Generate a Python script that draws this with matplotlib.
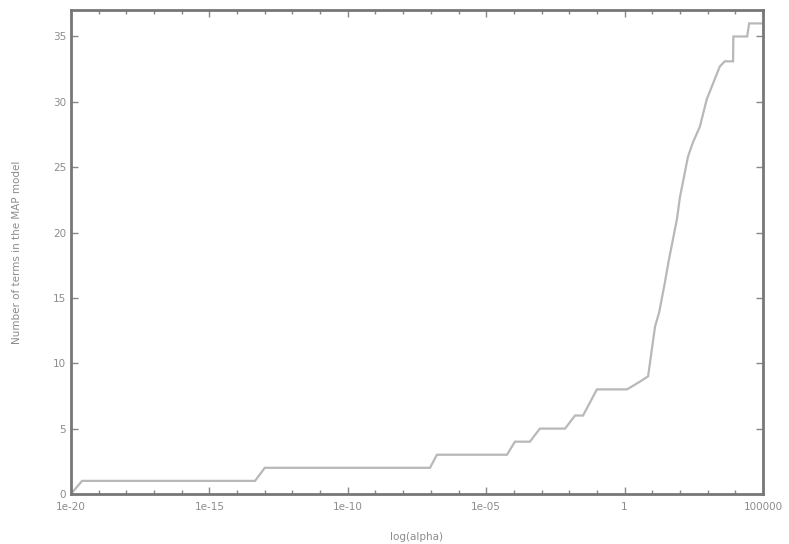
import matplotlib
matplotlib.use("Agg")
import matplotlib.pyplot as plt
import numpy as np
from matplotlib.ticker import FixedLocator, NullFormatter

# log10(alpha) positions and number of terms
log_alpha = [-20.0, -19.6, -13.35, -13.0, -7.03, -6.78, -4.25, -3.96, -3.42, -3.06,
             -2.15, -1.79, -1.50, -1.25, -1.0, 0.09, 0.56, 0.85, 1.10, 1.25,
             1.45, 1.60, 1.89, 2.0, 2.29, 2.47, 2.72, 2.97, 3.44, 3.62,
             3.92, 3.93, 4.43, 4.50, 5.0]
n_terms = [0, 1, 1, 2, 2, 3, 3, 4, 4, 5,
           5, 6, 6, 7, 8, 8, 8.6, 9, 12.8, 13.9,
           16.1, 17.9, 21, 22.7, 25.8, 26.9, 28.1, 30.2, 32.7, 33.1,
           33.1, 35, 35, 36, 36]

xtick_exps = [-20, -15, -10, -5, 0, 5]
xtick_labels = ["1e-20", "1e-15", "1e-10", "1e-05", "1", "100000"]
yticks = [0, 5, 10, 15, 20, 25, 30, 35]

fig = plt.figure(figsize=(7.89, 5.44), dpi=100)
ax = fig.add_axes([0.09, 0.092, 0.877, 0.889])

alpha = [10.0 ** v for v in log_alpha]
ax.plot(alpha, n_terms, color="#b8b8b8", lw=1.6, solid_joinstyle="miter")

ax.set_xscale("log")
ax.set_xlim(1e-20, 1e5)
ax.set_ylim(0, 37)

ax.xaxis.set_major_locator(FixedLocator([10.0 ** e for e in xtick_exps]))
ax.set_xticklabels(xtick_labels)
ax.xaxis.set_minor_locator(FixedLocator([10.0 ** e for e in range(-20, 6)]))
ax.xaxis.set_minor_formatter(NullFormatter())
ax.set_yticks(yticks)
ax.set_yticklabels([str(t) for t in yticks])

tc = "#8c8c8c"
ax.tick_params(which="both", direction="in", top=True, right=True,
               color="#888888", labelcolor=tc, labelsize=7.5)
ax.tick_params(which="major", length=5, width=1)
ax.tick_params(which="minor", length=3, width=1)
ax.tick_params(axis="x", pad=6)

for s in ax.spines.values():
    s.set_color("#777777")
    s.set_linewidth(2)

ax.set_xlabel("log(alpha)", color=tc, fontsize=7.5, labelpad=14)
ax.set_ylabel("Number of terms in the MAP model", color=tc, fontsize=7.5, labelpad=22)

fig.savefig("out.png", dpi=100)
